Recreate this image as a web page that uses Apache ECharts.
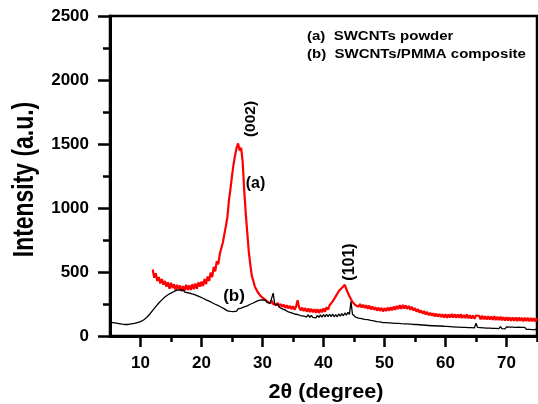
<!DOCTYPE html>
<html>
<head>
<meta charset="utf-8">
<script src="https://cdn.jsdelivr.net/npm/echarts@6/dist/echarts.min.js"></script>
<style>html,body{margin:0;padding:0;background:#fff;}#chart{width:538px;height:404px;}</style>
</head>
<body>
<div id="chart"></div>
<script>
// ---- data ----
const xTickValues = [10, 20, 30, 40, 50, 60, 70];
const xMinorTickValues = [15, 25, 35, 45, 55, 65, 75];
const yTickValues = [0, 500, 1000, 1500, 2000, 2500];
const seriesNames = ['(a)  SWCNTs powder', '(b)  SWCNTs/PMMA composite'];
const peakLabels = ['(002)', '(101)'];
const curveLabels = ['(a)', '(b)'];
const xTitle = '2\u03B8 (degree)';
const yTitle = 'Intensity (a.u.)';

// (a) SWCNTs powder, 2θ from 12 to 75 in 0.25° steps
const redStart = 12, redStep = 0.25;
const redValues = [
  520, 455, 490, 430,
  460, 410, 445, 400,
  430, 385, 420, 370,
  415, 375, 405, 360,
  400, 365, 395, 350,
  390, 355, 400, 360,
  395, 360, 405, 365,
  410, 370, 420, 385,
  425, 390, 445, 405,
  465, 430, 495, 460,
  540, 505, 585, 560,
  640, 640, 730, 740,
  860, 930, 1060, 1150,
  1250, 1340, 1410, 1470,
  1505, 1450, 1470, 1360,
  1140, 960, 810, 660,
  560, 470, 430, 385,
  370, 340, 345, 310,
  315, 290, 300, 270,
  285, 255, 275, 250,
  265, 240, 258, 232,
  250, 228, 245, 220,
  240, 215, 235, 210,
  232, 205, 228, 280,
  225, 200, 222, 195,
  218, 190, 215, 188,
  212, 185, 210, 182,
  210, 180, 208, 185,
  215, 190, 225, 205,
  240, 225, 270, 265,
  310, 305, 350, 345,
  375, 360, 400, 365,
  350, 310, 295, 265,
  275, 240, 255, 228,
  250, 222, 245, 218,
  240, 212, 238, 208,
  230, 205, 225, 198,
  222, 196, 220, 192,
  218, 195, 222, 198,
  225, 200, 230, 205,
  235, 210, 240, 212,
  242, 215, 238, 210,
  235, 205, 228, 198,
  218, 190, 210, 182,
  200, 175, 195, 168,
  188, 162, 182, 158,
  178, 152, 175, 150,
  172, 148, 170, 145,
  170, 143, 168, 145,
  172, 145, 170, 142,
  168, 142, 170, 140,
  165, 140, 168, 138,
  162, 136, 160, 134,
  160, 150, 158, 130,
  158, 130, 155, 128,
  155, 128, 152, 126,
  155, 125, 150, 124,
  150, 122, 148, 120,
  148, 120, 146, 118,
  146, 118, 145, 116,
  145, 118, 143, 115,
  144, 116, 142, 114,
  142, 115, 140, 113,
  140
];

// (b) SWCNTs/PMMA composite, 2θ from 5 to 75 in 0.25° steps
const blackStart = 5, blackStep = 0.25;
const blackValues = [
  108, 95, 104, 92,
  100, 88, 96, 85,
  92, 80, 90, 78,
  90, 80, 94, 84,
  98, 90, 105, 96,
  112, 108, 125, 122,
  145, 145, 170, 172,
  200, 205, 230, 232,
  258, 262, 282, 285,
  305, 302, 322, 318,
  335, 330, 348, 340,
  358, 345, 360, 348,
  358, 342, 352, 338,
  345, 332, 340, 325,
  330, 315, 322, 305,
  310, 295, 300, 282,
  285, 272, 275, 260,
  262, 248, 252, 238,
  240, 225, 228, 212,
  210, 196, 205, 192,
  202, 190, 205, 195,
  212, 200, 218, 208,
  228, 215, 235, 228,
  248, 235, 258, 250,
  270, 258, 280, 268,
  282, 268, 280, 262,
  275, 255, 268, 335,
  250, 238, 245, 225,
  232, 212, 222, 202,
  210, 188, 198, 180,
  192, 172, 185, 168,
  180, 160, 175, 156,
  170, 150, 166, 146,
  162, 145, 160, 142,
  162, 145, 165, 148,
  168, 150, 170, 152,
  170, 152, 172, 150,
  168, 150, 172, 155,
  175, 158, 180, 162,
  185, 168, 268, 170,
  165, 148, 158, 140,
  152, 136, 148, 130,
  142, 128, 138, 122,
  132, 118, 128, 112,
  124, 110, 120, 105,
  118, 104, 115, 102,
  115, 100, 114, 98,
  112, 98, 110, 96,
  110, 95, 108, 94,
  108, 93, 106, 90,
  104, 90, 102, 88,
  100, 86, 98, 84,
  96, 82, 95, 80,
  94, 80, 92, 78,
  92, 78, 90, 76,
  90, 75, 88, 74,
  86, 72, 85, 70,
  84, 70, 82, 68,
  82, 68, 80, 66,
  80, 66, 78, 64,
  100, 68, 80, 66,
  78, 64, 76, 62,
  76, 62, 75, 60,
  75, 60, 74, 58,
  74, 58, 72, 56,
  72, 57, 70, 55,
  70, 56, 68, 54,
  69, 54, 67, 52,
  68, 52, 66, 51,
  66, 50, 65, 50,
  64
];

const redData = redValues.map((v, i) => [redStart + i * redStep, v]);
const blackData = blackValues.map((v, i) => [blackStart + i * blackStep, v]);

const FONT = '"Liberation Sans", Arial, sans-serif';
const chart = echarts.init(document.getElementById('chart'), null, {renderer: 'canvas'});

function txt(text, x, y, size, opts) {
  opts = opts || {};
  return {
    type: 'text', x: x, y: y, z: 100,
    rotation: opts.rotation || 0,
    scaleX: opts.scaleX || 1,
    scaleY: opts.scaleY || 1,
    style: {
      text: text, fill: '#000',
      fontSize: size, fontWeight: 'bold', fontFamily: FONT,
      align: opts.align || 'center', verticalAlign: 'middle'
    }
  };
}

const option = {
  animation: false,
  backgroundColor: '#fff',
  grid: {left: 110, right: 1, top: 16, bottom: 68, show: true, borderColor: '#000', borderWidth: 2.5, backgroundColor: 'transparent'},
  xAxis: [{
    type: 'value', min: 5, max: 75,
    axisLine: {show: true, onZero: false, lineStyle: {color: '#000', width: 3}},
    axisTick: {show: true, inside: false, length: 11, lineStyle: {color: '#000', width: 2.5}, customValues: xTickValues},
    axisLabel: {show: true, color: '#000', fontSize: 17, fontWeight: 'bold', fontFamily: FONT, margin: 19, customValues: xTickValues},
    splitLine: {show: false}
  }, {
    type: 'value', min: 5, max: 75, position: 'bottom', gridIndex: 0,
    axisLine: {show: false, onZero: false},
    axisTick: {show: true, inside: false, length: 6, lineStyle: {color: '#000', width: 2.5}, customValues: xMinorTickValues},
    axisLabel: {show: false},
    splitLine: {show: false}
  }],
  yAxis: {
    type: 'value', min: yTickValues[0], max: yTickValues[yTickValues.length - 1], interval: 500,
    axisLine: {show: true, onZero: false, lineStyle: {color: '#000', width: 3}},
    axisTick: {show: true, inside: false, length: 12, lineStyle: {color: '#000', width: 2.5}},
    minorTick: {show: true, splitNumber: 2, length: 7, lineStyle: {color: '#000', width: 2.5}},
    axisLabel: {show: true, color: '#000', fontSize: 17, fontWeight: 'bold', fontFamily: FONT, margin: 21,
      formatter: function (v) { return String(v); }},
    splitLine: {show: false}
  },
  series: [{
    name: seriesNames[0], type: 'line', xAxisIndex: 0, data: redData,
    showSymbol: false, symbol: 'none', lineStyle: {color: '#ff0000', width: 2.2}, z: 2
  }, {
    name: seriesNames[1], type: 'line', xAxisIndex: 0, data: blackData,
    showSymbol: false, symbol: 'none', lineStyle: {color: '#000', width: 1.3}, z: 3
  }],
  graphic: [
    txt(xTitle, 326, 392, 20, {scaleX: 1.08}),
    txt(yTitle, 24.5, 179.5, 29, {rotation: Math.PI / 2, scaleX: 0.79}),
    txt(seriesNames[0], 307, 37, 12.5, {align: 'left', scaleX: 1.2}),
    txt(seriesNames[1], 307, 55, 12.5, {align: 'left', scaleX: 1.2}),
    txt(peakLabels[0], 251, 119, 15.5, {rotation: Math.PI / 2}),
    txt(peakLabels[1], 350, 262, 16, {rotation: Math.PI / 2}),
    txt(curveLabels[0], 255.5, 183.5, 16),
    txt(curveLabels[1], 234, 296.5, 17)
  ]
};
chart.setOption(option);
</script>
</body>
</html>
